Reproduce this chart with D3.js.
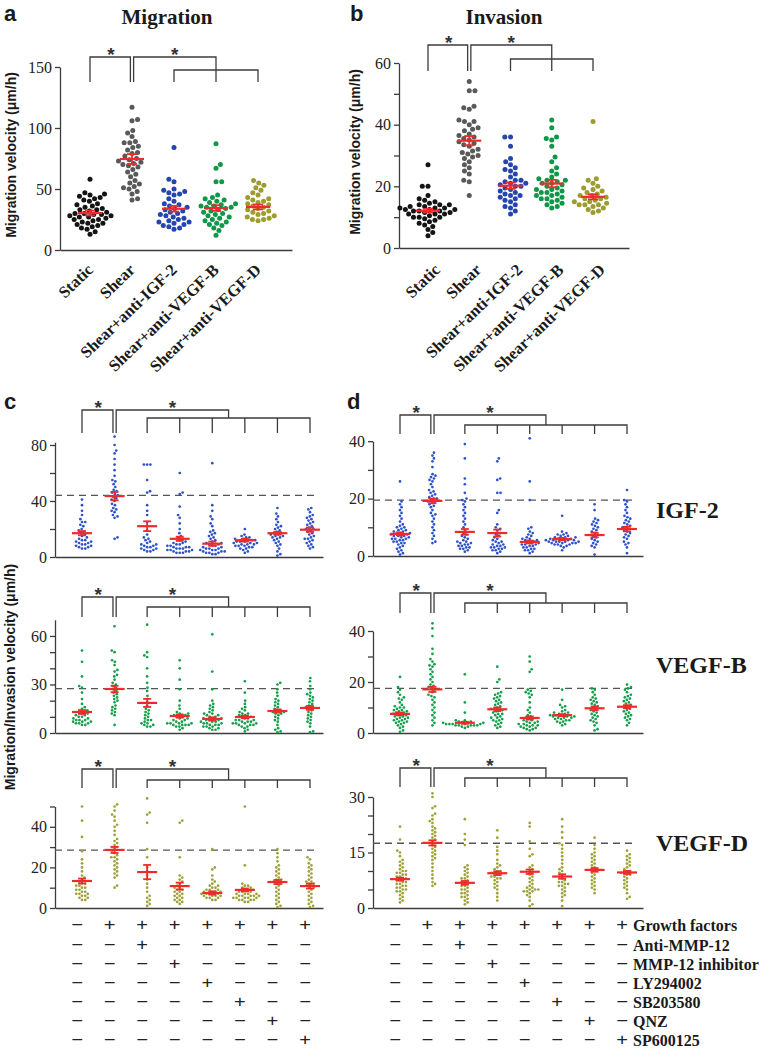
<!DOCTYPE html>
<html><head><meta charset="utf-8">
<script src="https://cdn.jsdelivr.net/npm/d3@7"></script>
<style>body{margin:0;background:#fff}</style>
</head><body><script>
// ---------------- DATA ----------------
const topGroups = ["Static","Shear","Shear+anti-IGF-2","Shear+anti-VEGF-B","Shear+anti-VEGF-D"];
// Panel a: Migration (µm/h)
const migStatic = [58,47,46,45,44,43,42,41,40,38,37,36,35,34,33,33,32,31,30,30,29,29,28,28,27,27,26,25,25,24,23,22,22,21,20,19,18,17,15,13];
const migShear  = [117,107,106,98,96,93,89,88,88,85,84,82,80,79,77,75,74,73,72,71,70,69,68,66,64,62,60,57,55,54,52,51,50,48,46,42,41];
const migIGF2   = [84,58,56,50,49,48,47,46,45,42,40,38,37,36,35,34,33,32,31,30,29,28,27,26,25,24,23,23,22,21,20,19,18,17];
const migVEGFB  = [87,70,67,56,56,45,43,42,41,40,39,38,37,36,36,35,35,34,33,32,31,30,29,28,27,26,25,24,23,22,21,20,18,16,12];
const migVEGFD  = [57,55,53,51,49,47,45,43,42,41,40,39,38,37,36,35,34,33,32,31,30,29,28,27,26,25,25,24];
const migMeans  = [30.3,74.6,33.8,34.4,35.3];
const migSEM    = [2,4,2.3,2.3,2];
const migTicks  = [0,50,100,150];
const migLabels = [0,50,100,150];
// Panel b: Invasion
const invStatic = [27,20,20,17,16,15.5,15,14.5,14,14,14,13.5,13.5,13,13,13,12.5,12.5,12.5,12,12,12,11.5,11.5,11,11,11,10.5,10,10,10,9.5,9,8.5,8,7.5,7,6,5,4];
const invShear  = [54,51,51,46,45.5,45,41.5,41,41,40,39,38.5,38,37,36.5,36,35.5,35,34.5,34,33.5,33,32,31.5,31,30.5,30,29.5,29,28,27,26,25,24,22,21.5,17];
const invIGF2   = [36,36,33,29,28,27,26,25.5,25,24,23,22,22,21.5,21,21,20.5,20,20,19.5,19,18.5,18,17.5,17,17,16.5,16,15.5,15,14,13.5,13,12,11];
const invVEGFB  = [41.5,39,36,35.5,35,33,29.5,28,26,25,24,23,22.5,22,22,21.5,21,21,20.5,20,19.5,19,19,18.5,18,18,17.5,17,17,16.5,16,16,15.5,15,14.5,14,13.5,13];
const invVEGFD  = [41,22.5,22,21,20,19.5,19,18.5,18,17.5,17,17,16.5,16,16,15.5,15,15,14.5,14,14,14,13.5,13,12.5,12,11.5];
const invMeans  = [12.1,34.8,20.2,20.9,16.6];
const invSEM    = [0.6,1.5,1,1.2,0.8];
const invTicks  = [0,10,20,30,40,50,60];
const invLabels = [0,20,40,60];

// Panel c (migration) – 8 conditions per growth factor
const cIGF2 = [
 [41,37,33,30,27,25,25,23,22,20,19,18,17,16,15,14,13,12,12,11,11,10,10,9,9,8,8,7,7,6,6],
 [86,80,76,74,70,66,62,58,55,54,52,50,48,47,46,45,44,43,42,41,40,38,37,35,34,33,32,30,29,28,14,13],
 [66,66,66,55,47,46,37,33,30,25,22,19,16,14,13,12,11,10,9,9,8,8,7,7,6,6,5,5,4,4],
 [60,46,45,36,30,28,24,20,17,15,14,13,12,11,10,10,9,9,8,8,7,7,7,6,6,6,5,5,5,4,4,4,3,3,3],
 [67,37,33,29,27,24,22,19,18,17,16,15,14,13,12,11,10,10,9,9,8,8,7,7,6,6,6,5,5,5,4,4,4,3,3,3,2,2],
 [20,16,15,14,14,13,13,12,12,12,11,11,11,10,10,10,9,9,9,8,8,8,7,7,6,6,5,4,3],
 [35,31,29,27,25,23,22,21,20,19,18,17,17,16,16,15,15,14,14,13,12,11,10,9,8,6,4,2,1],
 [35,34,32,30,29,28,27,26,25,24,23,22,21,20,20,19,18,17,16,15,14,13,13,12,11,10,9,8,7,6]];
const cIGF2Mean = [17,43.5,22,13,9.5,12,17,19.5];
const cIGF2SEM  = [1.5,3,3.5,1.5,1.5,1,1,1.5];
const cVEGFB = [
 [51,44,35,29,28,25,21,18,16,15,14,13,13,12,12,11,11,10,10,9,9,8,8,8,7,7,7,6,6,6,5,5],
 [66,51,50,45,44,42,39,38,36,35,33,31,30,29,28,27,26,25,24,23,22,21,20,19,17,16,15,14,13,12,11,5],
 [67,50,48,47,40,35,31,28,26,23,21,19,17,15,14,13,12,11,10,9,8,8,7,6,6,5,5,4,4],
 [45,40,33,27,20,17,15,13,12,12,11,11,10,10,9,9,8,8,7,7,6,6,6,6,5,5,5,5,4,4,3,2],
 [61,38,27,20,18,17,16,15,14,13,12,12,11,11,10,10,9,9,9,8,8,8,7,7,7,6,6,6,5,5,5,4,4,4,3,3,2,2],
 [32,25,20,18,16,15,14,13,12,12,11,11,10,10,9,9,8,8,8,7,7,7,6,6,6,6,5,5,5,4,4,3,2,1],
 [31,30,27,25,23,21,20,19,18,17,16,15,14,14,13,13,12,12,11,10,9,8,7,5,3,2,1,0.5],
 [34,32,29,27,25,24,23,22,21,20,19,18,17,16,16,15,14,13,12,11,10,9,8,7,6,4,1,0.5]];
const cVEGFBMean = [13,27.2,18.6,10.5,8.7,9.9,13.6,15.5];
const cVEGFBSEM  = [1.2,2,2.5,1,1,0.8,1,1.2];
const cVEGFD = [
 [50,43,35,28,24,22,20,18,16,15,14,13,12,12,11,11,10,10,9,9,8,8,7,7,7,6,6,5,5,4,4],
 [51,50,48,46,45,43,41,40,38,36,34,33,32,31,30,30,29,28,27,26,25,25,24,23,22,21,20,19,18,17,16,15,11,10],
 [54,47,46,42,29,25,20,18,16,14,12,10,8,6,5,4,3,2,1],
 [43,42,25,16,15,14,13,12,11,10,10,9,9,8,8,7,7,6,6,5,5,4,4,3,3,2],
 [29,20,19,16,14,13,12,11,11,10,10,9,9,9,8,8,8,8,7,7,7,7,6,6,6,6,5,5,5,4,4],
 [50,21,12,11,11,10,10,9,9,9,8,8,8,7,7,7,7,6,6,6,6,6,5,5,5,5,5,4,4,4,4,3,3],
 [29,27,25,23,21,20,19,18,17,16,15,14,14,13,13,12,12,11,10,9,8,7,6,5,4,3,2,1,0.5],
 [25,24,22,21,20,19,18,17,16,15,14,13,13,12,12,11,11,10,10,9,8,7,6,5,4,3,2,1,0.5]];
const cVEGFDMean = [13.3,28.6,17.7,10.8,7.4,8.9,12.8,10.8];
const cVEGFDSEM  = [1.2,1.5,3.5,1.7,0.8,0.7,1,1.2];
const cDash = [44,27.5,28.5];

// Panel d (invasion)
const dIGF2 = [
 [26,19,18,17,16,15,14,13,12,11,10.5,10,10,9.5,9,9,8.5,8.5,8,8,8,7.5,7.5,7,7,7,6.5,6.5,6,6,6,5.5,5.5,5,5,4.5,4.5,4,3.5,3,2.5,2,1.5,1,0.5],
 [36,35,34,33,31,28.5,28,27.5,27,26.5,26,25,24,23,22.5,22,21.5,21,20.5,20,20,19.5,19,19,18.5,18,17.5,17,16,15,14.5,14,13,12,11,10,9,8,7,6,5,4.5],
 [39,34,27,25,22,20,19.5,19,18,17,16,15,14,13,12,11,10,9,8,7.5,7,6.5,6,5.5,5,5,4.5,4.5,4,4,3.5,3.5,3,3,2.5,2.5,2,1.5],
 [34,33,27,26.5,22,22,16,15,11,10,9.5,9,8,7.5,7,6.5,6,5.5,5,5,4.5,4,4,3.5,3.5,3,3,3,2.5,2.5,2,2,1.5,1],
 [41,26,19.5,10,9.5,8.5,8,7.5,7,6.5,6,6,5.5,5.5,5,5,4.5,4.5,4,4,4,3.5,3.5,3,3,2.5,2.5,2,2,1.5,1],
 [14,8.5,8,7.5,7.5,7,7,6.5,6.5,6.5,6,6,6,6,5.5,5.5,5.5,5.5,5,5,5,5,5,4.5,4.5,4.5,4.5,4,4,4,3.5,3.5,3,2],
 [18,16,13,12.5,12,11.5,11,10.5,10,9.5,9,8.5,8,7.5,7,6.5,6,5.5,5,4.5,4,3.5,3,0.5],
 [23,19.5,19,18,17,16,15,14,13.5,13,12.5,12,11.5,11,10.5,10,10,9.5,9,8.5,8,7.5,7,6.5,6,5,4.5,4,3,1]];
const dIGF2Mean = [7.7,19.2,8.4,8,4.9,5.9,7.3,9.4];
const dIGF2SEM  = [0.5,0.8,1,1.2,0.5,0.4,0.8,0.8];
const dVEGFB = [
 [22,18,17,16,15,14,13.5,13,12,11,10.5,10,10,9.5,9,9,8.5,8.5,8,8,7.5,7.5,7,7,6.5,6.5,6,6,5.5,5.5,5,5,4.5,4.5,4,4,3.5,3,2.5,2,1,0.5],
 [43,41,38,33,31,29,28,27,26.5,26,25,24,23,22,21,20,19,18.5,18,17.5,17,16,15,14.5,14,13,12,11,10,9,8,7,6,5,4,3],
 [23,12,8,5,5,4.5,4.5,4,4,4,4,3.5,3.5,3.5,3.5,3.5,3,3,3,3,3,2.5,2.5,2],
 [26,21,20,16,15.5,15,14.5,14,13.5,13,12.5,12,11.5,11,10.5,10,9.5,9.5,9,9,8.5,8,7.5,7.5,7,6.5,6,6,5.5,5,5,4.5,4,3.5,3,2.5,2],
 [30,28,25,24,17,16.5,16,15.5,15,14,12,10,9,8,7,6.5,6,5.5,5,5,4.5,4.5,4,4,3.5,3.5,3,3,3,2.5,2.5,2,2,1.5,1.5,1],
 [17,13,11,10.5,10,9,8.5,8,8,7.5,7.5,7,7,7,6.5,6.5,6.5,6,6,6,5.5,5.5,5,5,4.5,4.5,4,3.5,3],
 [17.5,17,16,15,14,13.5,13,12.5,12,11.5,11,10.5,10,9.5,9,8.5,8,7.5,7,6.5,6,5.5,5,4.5,4,3,1.5,1],
 [19,18,17.5,17,16,15,14.5,14,13.5,13,12.5,12,11.5,11,10.5,10,9.5,9,8.5,8,7.5,7,6.5,6,5.5,5,4,3]];
const dVEGFBMean = [7.5,17.1,4,9.3,5.9,7,9.7,10.3];
const dVEGFBSEM  = [0.5,1,0.4,0.7,0.6,0.4,0.7,0.6];
const dVEGFD = [
 [22,18.5,15.5,15,14,13,12.5,12,11.5,11,10.5,10,10,9.5,9.5,9,9,8.5,8.5,8,8,7.5,7.5,7,7,6.5,6.5,6,6,5.5,5.5,5,5,4.5,4.5,4,3.5,3,2.5,2,1.5],
 [31,30,27.5,27,25.5,25,24,23.5,23,22,21.5,21,20.5,20,19.5,19,18.5,18,17.5,17,16.5,16,15.5,15,14.5,14,13.5,13,12,11,10,9,8,7,6.5,6],
 [24,20,18.5,17,11.5,11,10.5,10,9.5,9,8.5,8,8,7.5,7,7,6.5,6,6,5.5,5,5,4.5,4,4,3.5,3,3,2.5,2,1.5,1],
 [21,19,16.5,15.5,14.5,13,12,11.5,11,10.5,10,10,9.5,9.5,9,9,8.5,8.5,8,8,7.5,7,6.5,6,5.5,5,4,3,2],
 [23,22,18,16,14.5,14,11.5,11,10.5,10,9.5,9,8.5,8,7.5,7,6.5,6,5.5,5.5,5,5,5,4.5,4.5,4.5,4,3.5,3,2,1,0.5],
 [24,22,20.5,19,17.5,17,16,15,14,13,12,11,10.5,10,9.5,9,8.5,8,7.5,7,7,6.5,6.5,6,6,5.5,5,4.5,4,3.5,3,2,0.5],
 [19,17,16,15,14.5,14,13.5,13,12.5,12,11.5,11,10.5,10,9.5,9,8.5,8,7.5,7,6.5,6,5.5,5,4],
 [15.5,14.5,14,13.5,13,12.5,12,11.5,11,10.5,10,10,9.5,9.5,9,9,8.5,8,7.5,7,6.5,6,5.5,5,4,3,2.5]];
const dVEGFDMean = [7.8,17.6,6.8,9.4,9.8,8.5,10.3,9.6];
const dVEGFDSEM  = [0.4,0.7,0.5,0.5,0.6,0.6,0.5,0.4];
const dDash = [19.5,17.5,17.5];

const factorNames = ["IGF-2","VEGF-B","VEGF-D"];
const treatments = ["Growth factors","Anti-MMP-12","MMP-12 inhibitor","LY294002","SB203580","QNZ","SP600125"];
const signRows = ["-+++++++","--+-----","---+----","----+---","-----+--","------+-","-------+"];

// ---------------- DRAWING ----------------
const SERIF = "'Liberation Serif','Times New Roman',serif";
const SANS = "'Liberation Sans',Arial,sans-serif";
const AX = "#3c3c3c", RED = "#ee2b2b";
const svg = d3.select("body").append("svg").attr("width",760).attr("height",1050)
  .style("background","#fff");

function swarm(vals, ys, r, gap) {
  const d = 2*r + gap;
  const pts = vals.map(v => ({v, y: ys(v), dx: 0})).sort((a,b) => a.v - b.v);
  const placed = [];
  let flip = 1;
  for (const p of pts) {
    const iv = [];
    for (const q of placed) {
      const dy = Math.abs(q.y - p.y);
      if (dy < d) { const w = Math.sqrt(d*d - dy*dy); iv.push([q.dx - w, q.dx + w]); }
    }
    const cands = [0]; iv.forEach(([a,b]) => cands.push(a,b));
    cands.sort((a,b) => (Math.abs(a) - Math.abs(b)) || (flip*(a - b)));
    for (const c of cands) {
      if (iv.every(([a,b]) => c <= a + 1e-6 || c >= b - 1e-6)) { p.dx = c; break; }
    }
    flip = -flip;
    placed.push(p);
  }
  return pts;
}

function yAxis(g, ys, axX, tickVals, labelVals, fs) {
  const ax = d3.axisLeft(ys).tickValues(tickVals).tickSize(5).tickSizeOuter(0).tickPadding(3)
    .tickFormat(d => labelVals.includes(d) ? d : "");
  g.append("g").attr("transform", `translate(${axX},0)`).call(ax)
   .call(s => {
     s.select(".domain").attr("stroke", AX).attr("stroke-width", 1.3);
     s.selectAll(".tick line").attr("stroke", AX).attr("stroke-width", 1.3);
     s.selectAll("text").attr("font-family", SERIF).attr("font-size", fs).attr("fill", "#222");
   });
}

function xBase(g, ys, axX, axX2) {
  const xl = d3.scaleLinear().range([axX, axX2]);
  g.append("g").attr("transform", `translate(0,${ys(0)})`)
   .call(d3.axisBottom(xl).tickValues([]).tickSizeOuter(0))
   .call(s => s.select(".domain").attr("stroke", AX).attr("stroke-width", 1.3));
}

function dots(g, xs, ys, data, colors, r, gap) {
  data.forEach((vals, i) => {
    const pts = swarm(vals, ys, r, gap);
    g.append("g").selectAll("circle").data(pts).enter().append("circle")
      .attr("cx", d => xs(i) + d.dx).attr("cy", d => d.y).attr("r", r)
      .attr("fill", Array.isArray(colors) ? colors[i] : colors);
  });
}

function meanBars(g, xs, ys, means, sems, mw, cw) {
  means.forEach((m, i) => {
    const cx = xs(i), s = sems[i];
    const gg = g.append("g").attr("stroke", RED).attr("stroke-width", 1.8).attr("fill", "none");
    gg.append("line").attr("x1", cx - mw/2).attr("x2", cx + mw/2).attr("y1", ys(m)).attr("y2", ys(m)).attr("stroke-width", 2.2);
    gg.append("line").attr("x1", cx).attr("x2", cx).attr("y1", ys(m - s)).attr("y2", ys(m + s));
    [m - s, m + s].forEach(v => gg.append("line").attr("x1", cx - cw/2).attr("x2", cx + cw/2).attr("y1", ys(v)).attr("y2", ys(v)));
  });
}

function brackets(g, xs, n, t1, t2, leg) {
  const x0 = xs(0), x1 = xs(1), xa = xs(2), xb = xs(n - 1), xm = (xa + xb) / 2;
  let p = `M${x0},${leg}V${t1}H${x1 - 1.6}V${leg}`;
  p += `M${x1 + 1.6},${leg}V${t1}H${xm}V${t2}`;
  p += `M${xa},${leg}V${t2}H${xb}V${leg}`;
  for (let i = 3; i < n - 1; i++) p += `M${xs(i)},${t2}V${leg}`;
  g.append("path").attr("d", p).attr("fill", "none").attr("stroke", AX).attr("stroke-width", 1.3);
  [[(x0 + x1) / 2], [(x1 + 1.6 + xm) / 2]].forEach(([x]) =>
    g.append("text").attr("x", x).attr("y", t1 + 4).attr("text-anchor", "middle")
     .attr("font-family", SANS).attr("font-weight", "bold").attr("font-size", 19).attr("fill", "#333").text("*"));
}

function label(x, y, txt, font, fs, weight, anchor, rot) {
  const t = svg.append("text").attr("font-family", font).attr("font-size", fs)
    .attr("font-weight", weight || "normal").attr("fill", "#1a1a1a")
    .attr("text-anchor", anchor || "start").text(txt);
  if (rot) t.attr("transform", `translate(${x},${y}) rotate(${rot})`).attr("dominant-baseline", "central");
  else t.attr("x", x).attr("y", y);
  return t;
}

// ---- top panels a & b ----
const topColors = ["#141414", "#595959", "#2545ae", "#0d9848", "#9c9c2f"];
function topPanel(cfg) {
  const g = svg.append("g");
  const xs = d3.scalePoint().domain(d3.range(5)).range(cfg.xr);
  yAxis(g, cfg.ys, cfg.axX, cfg.ticks, cfg.labels, 16);
  xBase(g, cfg.ys, cfg.axX, cfg.axX2);
  dots(g, xs, cfg.ys, cfg.data, topColors, 2.5, 0.7);
  meanBars(g, xs, cfg.ys, cfg.means, cfg.sems, 24, 10);
  brackets(g, xs, 5, cfg.t1, cfg.t2, cfg.leg);
  topGroups.forEach((name, i) => {
    svg.append("text").attr("transform", `translate(${xs(i) + cfg.lblOff},${271}) rotate(-44)`)
      .attr("text-anchor", "end").attr("font-family", SERIF).attr("font-weight", "bold")
      .attr("font-size", 16.5).attr("fill", "#1a1a1a").text(name);
  });
}
topPanel({ys: d3.scaleLinear().domain([0,150]).range([250,67]), xr: [90,258], axX: 60, axX2: 292,
  ticks: migTicks, labels: migLabels, data: [migStatic, migShear, migIGF2, migVEGFB, migVEGFD],
  means: migMeans, sems: migSEM, t1: 57, t2: 70, leg: 82, lblOff: 4});
topPanel({ys: d3.scaleLinear().domain([0,60]).range([248,63]), xr: [428,593], axX: 399, axX2: 629,
  ticks: invTicks, labels: invLabels, data: [invStatic, invShear, invIGF2, invVEGFB, invVEGFD],
  means: invMeans, sems: invSEM, t1: 45, t2: 59, leg: 71, lblOff: 13});

label(4, 21, "a", SANS, 22, "bold");
label(350, 21, "b", SANS, 22, "bold");
label(167, 24, "Migration", SERIF, 21, "bold", "middle");
label(504, 24, "Invasion", SERIF, 21, "bold", "middle");
label(11, 155, "Migration velocity (μm/h)", SANS, 14, "bold", "middle", -90);
label(355, 152, "Migration velocity (μm/h)", SANS, 14, "bold", "middle", -90);

// ---- panels c & d ----
const subColors = ["#2e52c8", "#13a04b", "#9ea236"];
const xsC = d3.scalePoint().domain(d3.range(8)).range([82, 310]);
const xsD = d3.scalePoint().domain(d3.range(8)).range([400, 627]);
const cCfg = [
  {ys: d3.scaleLinear().domain([0,82]).range([557,442.2]), ticks: [0,20,40,60,80], labels: [0,40,80], data: cIGF2, means: cIGF2Mean, sems: cIGF2SEM, br: [410,418,433]},
  {ys: d3.scaleLinear().domain([0,70]).range([733,619.8]), ticks: [0,10,20,30,40,50,60], labels: [0,30,60], data: cVEGFB, means: cVEGFBMean, sems: cVEGFBSEM, br: [597,607,617]},
  {ys: d3.scaleLinear().domain([0,50]).range([908,806.5]), ticks: [0,10,20,30,40,50], labels: [0,20,40], data: cVEGFD, means: cVEGFDMean, sems: cVEGFDSEM, br: [769,780,788]}];
const dCfg = [
  {ys: d3.scaleLinear().domain([0,40]).range([556,441.2]), ticks: [0,10,20,30,40], labels: [0,20,40], data: dIGF2, means: dIGF2Mean, sems: dIGF2SEM, br: [415,425,434]},
  {ys: d3.scaleLinear().domain([0,40]).range([733,631]), ticks: [0,10,20,30,40], labels: [0,20,40], data: dVEGFB, means: dVEGFBMean, sems: dVEGFBSEM, br: [593,603,613]},
  {ys: d3.scaleLinear().domain([0,30]).range([908,797]), ticks: [0,5,10,15,20,25,30], labels: [0,15,30], data: dVEGFD, means: dVEGFDMean, sems: dVEGFDSEM, br: [768,778,787]}];

function subPanel(cfg, xs, axX, axX2, dashX2, dashVal, color) {
  const g = svg.append("g");
  yAxis(g, cfg.ys, axX, cfg.ticks, cfg.labels, 16);
  xBase(g, cfg.ys, axX, axX2);
  g.append("line").attr("x1", axX).attr("x2", dashX2).attr("y1", cfg.ys(dashVal)).attr("y2", cfg.ys(dashVal))
    .attr("stroke", "#555").attr("stroke-width", 1.3).attr("stroke-dasharray", "7,5");
  dots(g, xs, cfg.ys, cfg.data, color, 1.35, 0.55);
  meanBars(g, xs, cfg.ys, cfg.means, cfg.sems, 20, 8);
  brackets(g, xs, 8, cfg.br[0], cfg.br[1], cfg.br[2]);
}
cCfg.forEach((cfg, k) => subPanel(cfg, xsC, 55, 323, 317, cDash[k], subColors[k]));
dCfg.forEach((cfg, k) => subPanel(cfg, xsD, 373, 643, 637, dDash[k], subColors[k]));

label(4, 409, "c", SANS, 22, "bold");
label(347, 409, "d", SANS, 22, "bold");
label(10, 677, "Migration/Invasion velocity (μm/h)", SANS, 14, "bold", "middle", -90);
const factorY = [518, 673, 851];
factorNames.forEach((f, k) => label(656, factorY[k], f, SERIF, 24, "bold"));

// ---- treatment table ----
const rowY = [925, 945, 964, 983, 1002, 1021, 1040];
signRows.forEach((row, r) => {
  [xsC, xsD].forEach(xs => {
    row.split("").forEach((s, i) => {
      svg.append("text").attr("x", xs(i) - 5).attr("y", rowY[r]).attr("text-anchor", "middle")
        .attr("dominant-baseline", "central").attr("font-family", SANS).attr("font-size", 16)
        .attr("fill", "#222").attr("transform", `translate(${xs(i) - 5},0) scale(1.25,1) translate(${-(xs(i) - 5)},0)`)
        .text(s === "+" ? "+" : "\u2212");
    });
  });
  svg.append("text").attr("x", 633).attr("y", rowY[r]).attr("dominant-baseline", "central")
    .attr("font-family", SERIF).attr("font-weight", "bold").attr("font-size", 16).attr("fill", "#1a1a1a")
    .text(treatments[r]);
});
</script></body></html>
